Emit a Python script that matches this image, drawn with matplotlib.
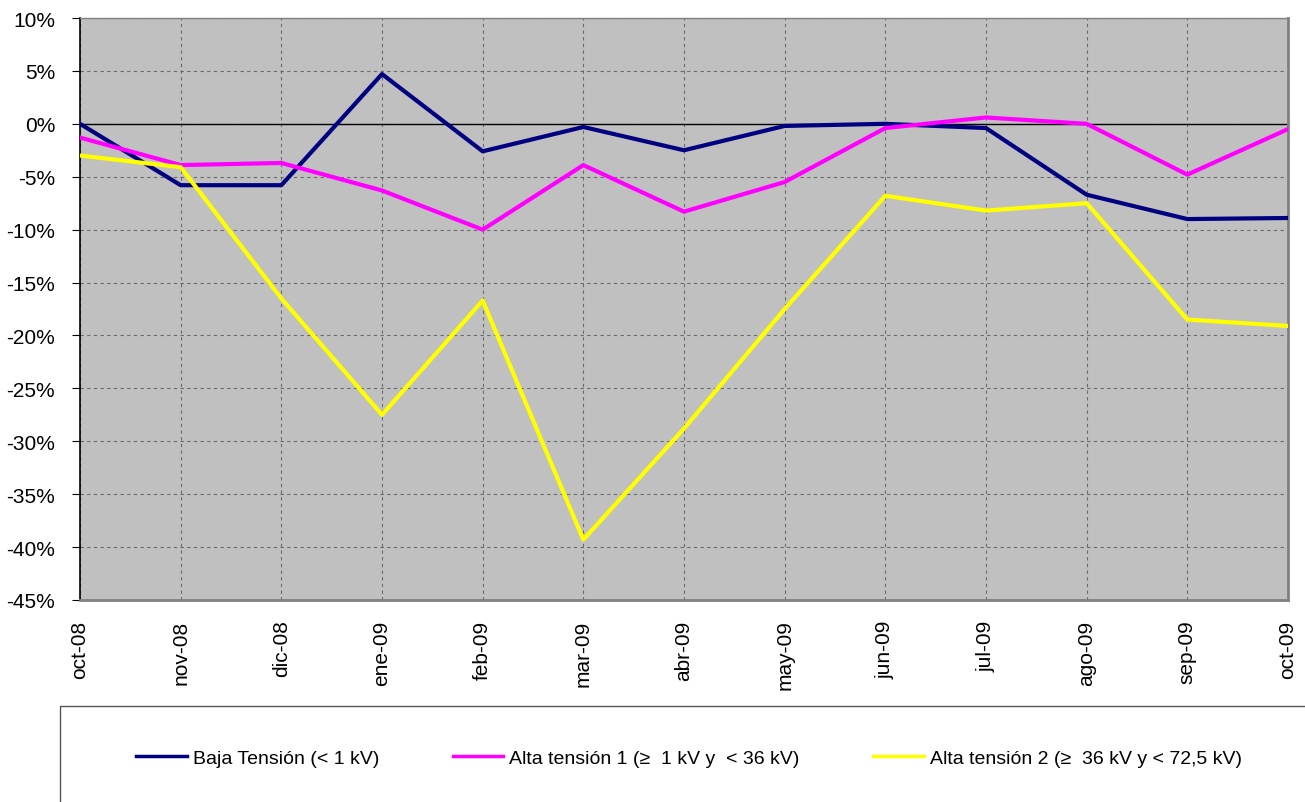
import matplotlib
matplotlib.use("Agg")
import matplotlib.pyplot as plt
from matplotlib.patches import Rectangle
from matplotlib.ticker import FuncFormatter

plt.rcParams['font.family'] = ['Liberation Sans', 'DejaVu Sans']

# data (percent)
meses = ['oct-08', 'nov-08', 'dic-08', 'ene-09', 'feb-09', 'mar-09', 'abr-09',
         'may-09', 'jun-09', 'jul-09', 'ago-09', 'sep-09', 'oct-09']

baja = [0.0, -5.8, -5.8, 4.7, -2.6, -0.3, -2.5, -0.2, 0.0, -0.4, -6.7, -9.0, -8.9]
alta1 = [-1.3, -3.9, -3.7, -6.3, -10.0, -3.9, -8.3, -5.5, -0.4, 0.6, 0.0, -4.8, -0.5]
alta2 = [-3.0, -4.1, -16.5, -27.5, -16.7, -39.3, -28.8, -17.5, -6.8, -8.2, -7.5, -18.5, -19.1]

nombres = ['Baja Tensión (< 1 kV)',
           'Alta tensión 1 (≥  1 kV y  < 36 kV)',
           'Alta tensión 2 (≥  36 kV y < 72,5 kV)']
colores = ['#000080', '#FF00FF', '#FFFF00']

fig = plt.figure(figsize=(13.05, 8.03), dpi=100)
ax = fig.add_axes([80/1305, 1-601/803, (1288-80)/1305, (601-19)/803])
ax.set_facecolor('#C0C0C0')

x = range(len(meses))
for serie, nombre, color in zip([baja, alta1, alta2], nombres, colores):
    ax.plot(x, serie, color=color, lw=3.0, label=nombre, zorder=3)

ax.axhline(0, color='black', lw=1, zorder=2)

ax.set_xlim(0, len(meses)-1)
ax.set_ylim(-45, 10)
ax.set_yticks(range(-45, 11, 5))
ax.yaxis.set_major_formatter(FuncFormatter(lambda v, p: '%d%%' % v))
ax.set_xticks(list(x))
ax.set_xticklabels(meses, rotation=90, fontsize=15)
ax.tick_params(axis='y', labelsize=15, length=6, color='black', pad=12)
ax.tick_params(axis='x', length=0, pad=14)

ax.grid(True, color='#555555', linestyle=(0, (3, 3)), lw=0.8, alpha=0.8, zorder=1)

ax.spines['left'].set_color('black')
ax.spines['left'].set_linewidth(1.2)
for s in ['bottom', 'right']:
    ax.spines[s].set_color('#808080')
    ax.spines[s].set_linewidth(2)
ax.spines['top'].set_color('#808080')
ax.spines['top'].set_linewidth(1)

# legend box
fig.patches.append(Rectangle((60/1305, -0.1), 1.0, 1-707/803+0.1,
                             transform=fig.transFigure, fill=False,
                             edgecolor='#555555', lw=1))
fig.legend(loc='center', bbox_to_anchor=(689/1305, 1-759/803), ncol=3,
           frameon=False, fontsize=14, handlelength=2.6, handletextpad=0.3,
           columnspacing=3.8)
for l in fig.legends[0].get_lines():
    l.set_linewidth(2.5)

fig.savefig('out.png', dpi=100)
